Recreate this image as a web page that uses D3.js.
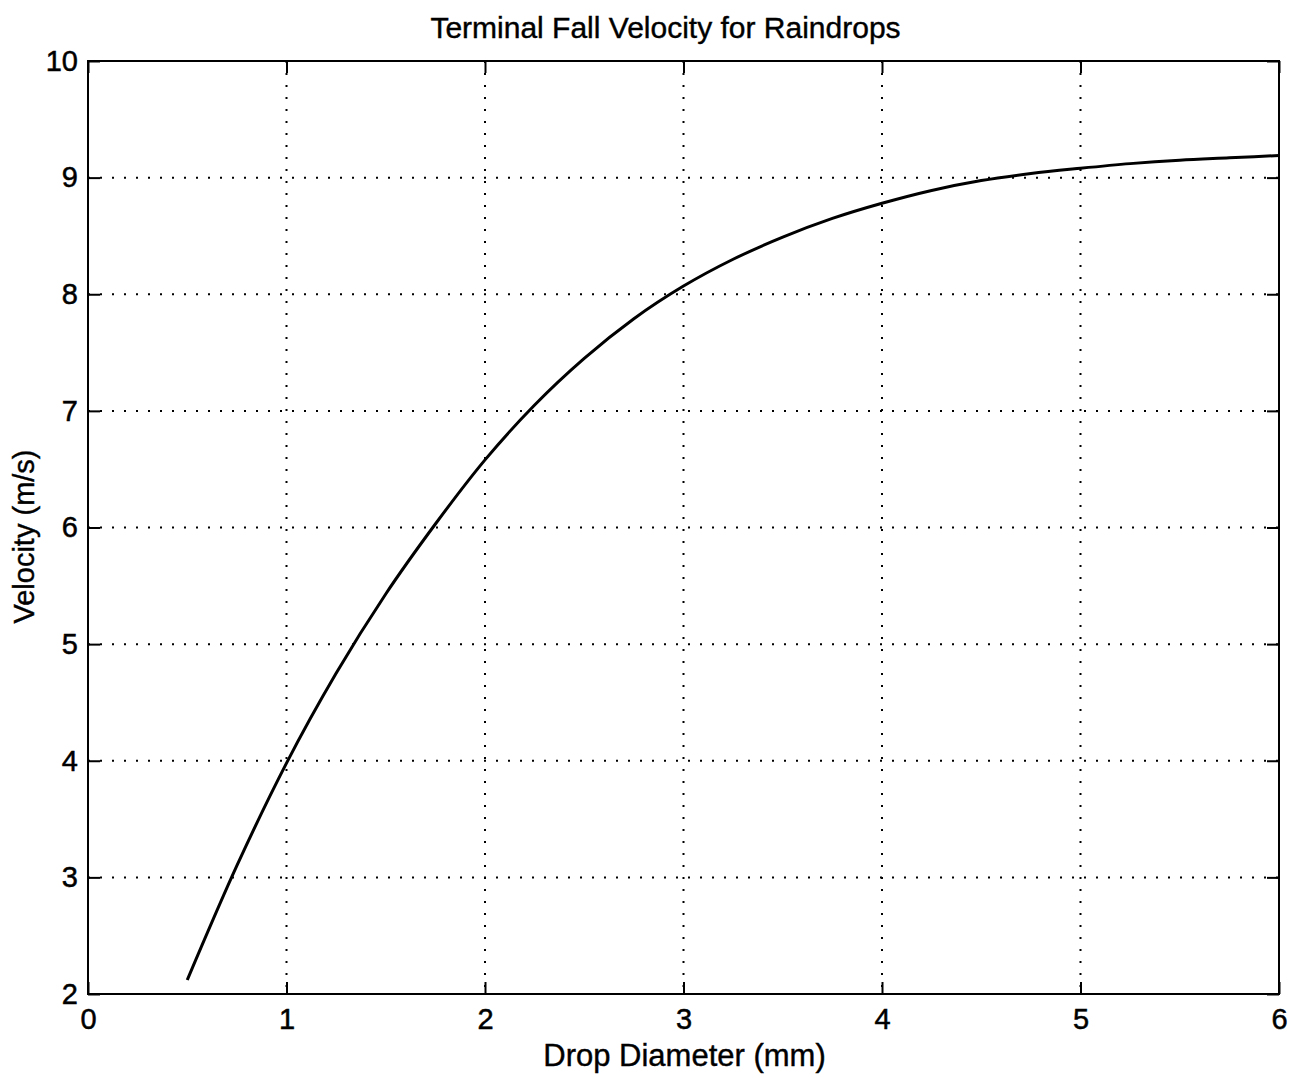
<!DOCTYPE html>
<html>
<head>
<meta charset="utf-8">
<script src="https://cdn.jsdelivr.net/npm/d3@7"></script>
<style>
  html, body { margin: 0; padding: 0; background: #fff; }
  text { font-family: "Liberation Sans", Arial, Helvetica, sans-serif; fill: #000; }
</style>
</head>
<body>
<svg id="chart" width="1306" height="1078"></svg>
<script>
const title = "Terminal Fall Velocity for Raindrops";
const xLabel = "Drop Diameter (mm)";
const yLabel = "Velocity (m/s)";
const xTicks = [0, 1, 2, 3, 4, 5, 6];
const yTicks = [2, 3, 4, 5, 6, 7, 8, 9, 10];
const diameter = [0.5, 0.75, 1.0, 1.25, 1.5, 1.75, 2.0, 2.25, 2.5, 2.75, 3.0, 3.25, 3.5, 3.75, 4.0, 4.25, 4.5, 4.75, 5.0, 5.25, 5.5, 5.75, 6.0];
const velocity = [2.12, 3.10, 3.98, 4.75, 5.43, 6.03, 6.58, 7.05, 7.45, 7.79, 8.07, 8.30, 8.49, 8.65, 8.78, 8.89, 8.975, 9.035, 9.08, 9.12, 9.15, 9.17, 9.19];

const svg = d3.select("#chart");
const L = 88, R = 1279, T = 61, B = 994;
const x = d3.scaleLinear().domain([0, 6]).range([L, R]);
const y = d3.scaleLinear().domain([2, 10]).range([B, T]);

// grid
const grid = svg.append("g");
grid.selectAll("line.gx").data(xTicks.slice(1, -1)).enter().append("line")
  .attr("x1", d => x(d)).attr("x2", d => x(d)).attr("y1", T).attr("y2", B)
  .attr("stroke", "#000").attr("stroke-width", 2).attr("stroke-dasharray", "2,10");
grid.selectAll("line.gy").data(yTicks.slice(1, -1)).enter().append("line")
  .attr("y1", d => y(d)).attr("y2", d => y(d)).attr("x1", L).attr("x2", R)
  .attr("stroke", "#000").attr("stroke-width", 2).attr("stroke-dasharray", "2,10");

// axes with inward ticks
const tl = 12;
const axB = d3.axisBottom(x).tickValues(xTicks).tickSize(-tl).tickPadding(14).tickFormat(d3.format("d"));
const axT = d3.axisTop(x).tickValues(xTicks).tickSize(-tl).tickFormat("");
const axLft = d3.axisLeft(y).tickValues(yTicks).tickSize(-tl).tickPadding(10).tickFormat(d3.format("d"));
const axRgt = d3.axisRight(y).tickValues(yTicks).tickSize(-tl).tickFormat("");

function styleAxis(g) {
  g.select(".domain").remove();
  g.selectAll(".tick line").attr("stroke", "#000").attr("stroke-width", 2);
  g.selectAll(".tick text").attr("font-size", 29).attr("font-family", "Liberation Sans, Arial, sans-serif")
    .attr("fill", "#000").attr("stroke", "#000").attr("stroke-width", 0.5);
}
svg.append("g").attr("transform", `translate(0,${B})`).call(axB).call(styleAxis);
svg.append("g").attr("transform", `translate(0,${T})`).call(axT).call(styleAxis);
svg.append("g").attr("transform", `translate(${L},0)`).call(axLft).call(styleAxis);
svg.append("g").attr("transform", `translate(${R},0)`).call(axRgt).call(styleAxis);

// frame
svg.append("rect").attr("x", L).attr("y", T).attr("width", R - L).attr("height", B - T)
  .attr("fill", "none").attr("stroke", "#000").attr("stroke-width", 2);

// curve
const pts = diameter.map((d, i) => [d, velocity[i]]);
svg.append("path").datum(pts)
  .attr("d", d3.line().x(d => x(d[0])).y(d => y(d[1])).curve(d3.curveMonotoneX))
  .attr("fill", "none").attr("stroke", "#000").attr("stroke-width", 3);

// labels
svg.append("text").attr("x", (L + R) / 2 - 18).attr("y", 38).attr("text-anchor", "middle")
  .attr("font-size", 30).attr("stroke", "#000").attr("stroke-width", 0.4).text(title);
svg.append("text").attr("x", (L + R) / 2 + 1).attr("y", 1066).attr("text-anchor", "middle")
  .attr("font-size", 31).attr("stroke", "#000").attr("stroke-width", 0.4).text(xLabel);
svg.append("text").attr("transform", `translate(34,${(T + B) / 2 + 9}) rotate(-90)`).attr("text-anchor", "middle")
  .attr("font-size", 29).attr("stroke", "#000").attr("stroke-width", 0.4).text(yLabel);
</script>
</body>
</html>
